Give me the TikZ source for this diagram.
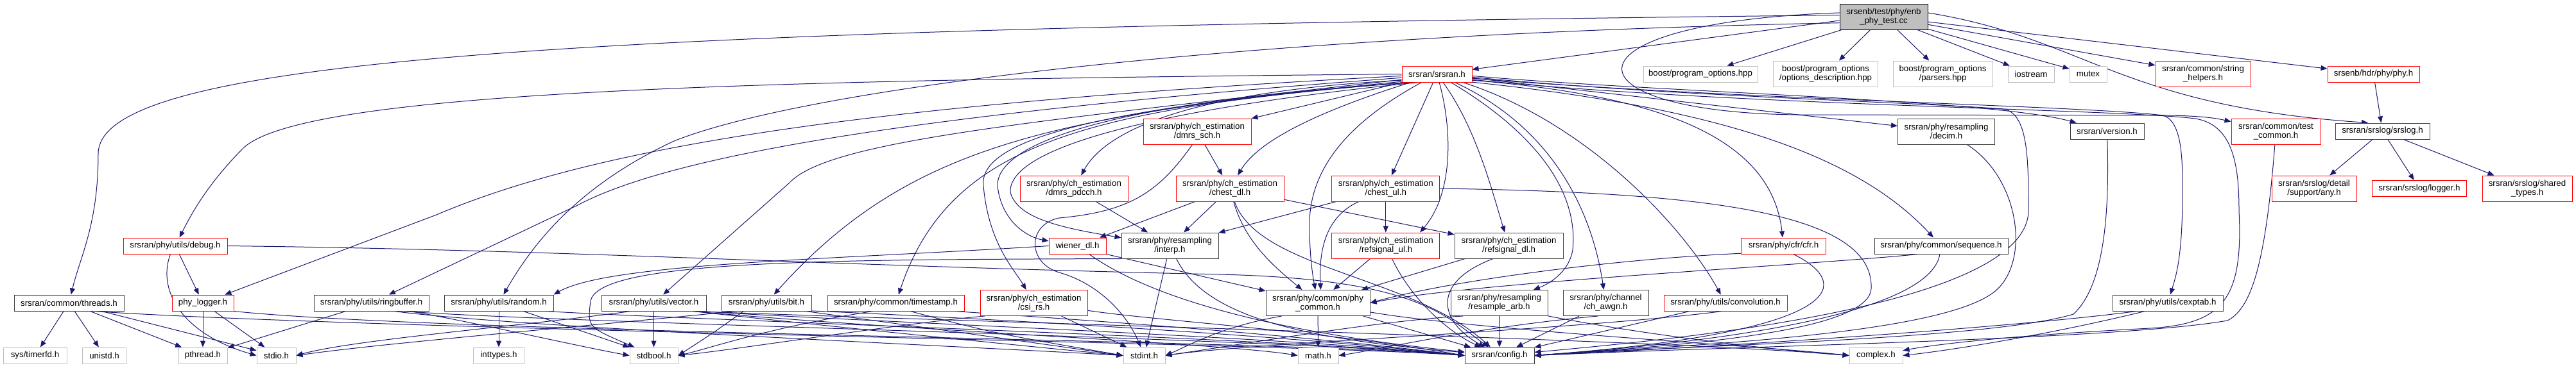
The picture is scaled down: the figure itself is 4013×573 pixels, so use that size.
\documentclass[tikz,border=0pt]{standalone}
\usepackage{fontspec}
\setmainfont{Liberation Sans}
\usetikzlibrary{arrows.meta, backgrounds}
\definecolor{edgeblue}{HTML}{191970}
\definecolor{truncred}{HTML}{FF0000}
\definecolor{sysgray}{HTML}{BFBFBF}
\definecolor{boxdark}{HTML}{404040}

\begin{document}
\begin{tikzpicture}[x=1pt, y=-1pt, font=\fontsize{13.3}{14}\selectfont,
    hdr/.style={draw=boxdark, line width=1pt, fill=white, inner sep=0pt,
      align=center, minimum height=25pt},
    trunc/.style={hdr, draw=truncred},
    sys/.style={hdr, draw=sysgray},
    tall/.style={minimum height=40pt},
    inc/.style={draw=edgeblue, line width=1pt, -{Triangle[length=10pt, width=8pt]}}]
  \useasboundingbox (0,0) rectangle (4013,573);
  % the test file and its direct includes
  \node[hdr, tall, fill=sysgray, draw=black, minimum width=137pt] (root) at (2934.5,26) {srsenb/test/phy/enb\\\_phy\_test.cc};
  \node[trunc, minimum width=109pt] (srsran) at (2238.5,115.5) {srsran/srsran.h};
  \node[sys, minimum width=178pt] (popt) at (2649,115.5) {boost/program\_options.hpp};
  \node[sys, tall, minimum width=163pt] (poptdesc) at (2844,115) {boost/program\_options\\/options\_description.hpp};
  \node[sys, tall, minimum width=155pt] (poptparse) at (3026.5,115) {boost/program\_options\\/parsers.hpp};
  \node[sys, minimum width=72pt] (iostream) at (3164,115.5) {iostream};
  \node[sys, minimum width=58pt] (mutex) at (3253,115.5) {mutex};
  \node[trunc, tall, minimum width=148pt] (strhelp) at (3432,115) {srsran/common/string\\\_helpers.h};
  \node[trunc, minimum width=143pt] (phyh) at (3697.5,115.5) {srsenb/hdr/phy/phy.h};
  % second and third rows
  \node[trunc, tall, minimum width=168pt] (dmrssch) at (1865,205) {srsran/phy/ch\_estimation\\/dmrs\_sch.h};
  \node[hdr, tall, minimum width=151pt] (decim) at (3032,205) {srsran/phy/resampling\\/decim.h};
  \node[hdr, minimum width=115pt] (version) at (3282.5,204.5) {srsran/version.h};
  \node[trunc, tall, minimum width=139pt] (testcommon) at (3545.5,205) {srsran/common/test\\\_common.h};
  \node[hdr, minimum width=147pt] (srslog) at (3711.5,204.5) {srsran/srslog/srslog.h};
  \node[trunc, tall, minimum width=168pt] (dmrspdcch) at (1673,294) {srsran/phy/ch\_estimation\\/dmrs\_pdcch.h};
  \node[trunc, tall, minimum width=168pt] (chestdl) at (1916,294) {srsran/phy/ch\_estimation\\/chest\_dl.h};
  \node[trunc, tall, minimum width=168pt] (chestul) at (2158.75,294) {srsran/phy/ch\_estimation\\/chest\_ul.h};
  \node[trunc, tall, minimum width=132pt] (anyh) at (3605,294) {srsran/srslog/detail\\/support/any.h};
  \node[trunc, minimum width=147pt] (loggerh) at (3769,294) {srsran/srslog/logger.h};
  \node[trunc, tall, minimum width=140pt] (sharedtypes) at (3937,294) {srsran/srslog/shared\\\_types.h};
  % fourth row
  \node[trunc, minimum width=162pt] (debugh) at (273,383.5) {srsran/phy/utils/debug.h};
  \node[trunc, minimum width=89pt] (wienerdl) at (1678.5,383.5) {wiener\_dl.h};
  \node[hdr, tall, minimum width=151pt] (interp) at (1822.5,383) {srsran/phy/resampling\\/interp.h};
  \node[trunc, tall, minimum width=168pt] (refsigul) at (2158.75,383) {srsran/phy/ch\_estimation\\/refsignal\_ul.h};
  \node[hdr, tall, minimum width=169pt] (refsigdl) at (2350.5,383) {srsran/phy/ch\_estimation\\/refsignal\_dl.h};
  \node[trunc, minimum width=132pt] (cfr) at (2778.5,383.5) {srsran/phy/cfr/cfr.h};
  \node[hdr, minimum width=208pt] (sequence) at (3024,383.5) {srsran/phy/common/sequence.h};
  % fifth row
  \node[hdr, minimum width=171pt] (threads) at (107.5,472.5) {srsran/common/threads.h};
  \node[trunc, minimum width=96pt] (phylog) at (316,472.5) {phy\_logger.h};
  \node[hdr, minimum width=179pt] (ringbuf) at (578.5,472.5) {srsran/phy/utils/ringbuffer.h};
  \node[hdr, minimum width=170pt] (randomh) at (777,472.5) {srsran/phy/utils/random.h};
  \node[hdr, minimum width=163pt] (vectorh) at (1018.5,472.5) {srsran/phy/utils/vector.h};
  \node[hdr, minimum width=140pt] (bith) at (1194,472.5) {srsran/phy/utils/bit.h};
  \node[trunc, minimum width=213pt] (timestamp) at (1395.5,472.5) {srsran/phy/common/timestamp.h};
  \node[trunc, tall, minimum width=167pt] (csirs) at (1610.5,472.5) {srsran/phy/ch\_estimation\\/csi\_rs.h};
  \node[hdr, tall, minimum width=162pt] (phycommon) at (2053,472.5) {srsran/phy/common/phy\\\_common.h};
  \node[hdr, tall, minimum width=151pt] (resarb) at (2335.5,472.5) {srsran/phy/resampling\\/resample\_arb.h};
  \node[hdr, tall, minimum width=133pt] (chawgn) at (2501.5,472.5) {srsran/phy/channel\\/ch\_awgn.h};
  \node[trunc, minimum width=192pt] (convol) at (2688,472.5) {srsran/phy/utils/convolution.h};
  \node[hdr, minimum width=172pt] (cexptab) at (3377,472.5) {srsran/phy/utils/cexptab.h};
  % system headers and config
  \node[sys, minimum width=99pt] (timerfd) at (54.5,554.5) {sys/timerfd.h};
  \node[sys, minimum width=68pt] (unistd) at (162.6,554.5) {unistd.h};
  \node[sys, minimum width=76pt] (pthread) at (316,554.5) {pthread.h};
  \node[sys, minimum width=61pt] (stdio) at (430.5,554.5) {stdio.h};
  \node[sys, minimum width=79pt] (inttypes) at (777,554.5) {inttypes.h};
  \node[sys, minimum width=75pt] (stdbool) at (1018.5,554.5) {stdbool.h};
  \node[sys, minimum width=65pt] (stdint) at (1782.5,554.5) {stdint.h};
  \node[sys, minimum width=63pt] (mathh) at (2053.5,554.5) {math.h};
  \node[hdr, minimum width=108pt] (config) at (2336,554.5) {srsran/config.h};
  \node[sys, minimum width=83pt] (complexh) at (2922.5,554.5) {complex.h};

  \begin{scope}[on background layer]
  % from the test file
  \draw[inc] (root.185) -- (srsran);
  \draw[inc] (root) -- (popt);
  \draw[inc] (root) -- (poptdesc);
  \draw[inc] (root) -- (poptparse);
  \draw[inc] (root) -- (iostream);
  \draw[inc] (root) -- (mutex);
  \draw[inc] (root) -- (strhelp);
  \draw[inc] (root) -- (phyh);
  \draw[inc] (root.5) .. controls (3250,60) and (3300,165) .. (srslog.150);
  \draw[inc] (root.175) .. controls (2420,35) and (2430,175) .. (2800,179)
    -- (3380,180) .. controls (3430,181) and (3450,184) .. (testcommon);
  \draw[inc] (root.178) .. controls (900,45) and (153,90) .. (153,240)
    .. controls (153,350) and (125,400) .. (threads);
  \draw[inc] (root.188) .. controls (1900,55) and (1250,140) .. (1050,220)
    .. controls (900,290) and (830,380) .. (randomh);
  % srsran.h fans out
  \draw[inc] (srsran) -- (chestul);
  \draw[inc] (srsran) -- (dmrssch);
  \draw[inc] (srsran) -- (decim);
  \draw[inc] (srsran.west) .. controls (1200,125) and (480,140) .. (380,230)
    .. controls (320,290) and (295,340) .. (debugh);
  \draw[inc] (srsran.183) .. controls (1400,160) and (950,220) .. (680,335) -- (phylog);
  \draw[inc] (srsran.186) .. controls (1450,175) and (1050,240) .. (900,320) -- (ringbuf);
  \draw[inc] (srsran.189) .. controls (1600,190) and (1290,220) .. (1230,285) -- (vectorh);
  \draw[inc] (srsran.192) .. controls (1650,180) and (1420,220) .. (bith);
  \draw[inc] (srsran.195) .. controls (1700,170) and (1480,220) .. (timestamp);
  \draw[inc] (srsran.198) .. controls (1650,170) and (1525,230) .. (1532,290)
    .. controls (1540,380) and (1580,420) .. (csirs);
  \draw[inc] (srsran.201) .. controls (1700,160) and (1552,230) .. (1554,290)
    .. controls (1560,345) and (1600,370) .. (wienerdl);
  \draw[inc] (srsran.204) .. controls (1800,170) and (1570,230) .. (1574,300)
    .. controls (1585,340) and (1650,355) .. (interp);
  \draw[inc] (srsran.190) .. controls (1900,140) and (1730,190) .. (dmrspdcch);
  \draw[inc] (srsran) .. controls (2050,175) and (1960,220) .. (chestdl);
  \draw[inc] (srsran) .. controls (2120,180) and (2040,250) .. (2040,350)
    .. controls (2040,400) and (2045,430) .. (phycommon);
  \draw[inc] (srsran) .. controls (2262,200) and (2265,300) .. (refsigul.21);
  \draw[inc] (srsran) .. controls (2300,200) and (2325,300) .. (refsigdl);
  \draw[inc] (srsran) .. controls (2380,200) and (2460,290) .. (2450,390)
    .. controls (2445,420) and (2420,440) .. (resarb);
  \draw[inc] (srsran) .. controls (2420,200) and (2480,330) .. (chawgn);
  \draw[inc] (srsran) .. controls (2470,190) and (2620,350) .. (convol);
  \draw[inc] (srsran.350) .. controls (2600,150) and (2760,220) .. (cfr);
  \draw[inc] (srsran.347) .. controls (2700,170) and (2900,250) .. (sequence);
  \draw[inc] (srsran.-3) .. controls (2600,145) and (3100,155) .. (version);
  \draw[inc] (srsran.-5) .. controls (2600,150) and (3000,160) .. (3120,170)
    .. controls (3160,175) and (3160,250) .. (3160,330)
    .. controls (3155,480) and (2600,530) .. (config);
  \draw[inc] (srsran.-7) .. controls (2700,155) and (3250,165) .. (3370,180)
    .. controls (3400,190) and (3400,250) .. (3400,300)
    .. controls (3400,400) and (3390,430) .. (cexptab);
  \draw[inc] (srsran.-9) .. controls (2700,165) and (3300,170) .. (3420,185)
    .. controls (3480,195) and (3488,260) .. (3488,330)
    .. controls (3495,470) and (3460,505) .. (3350,512)
    .. controls (3100,525) and (3000,540) .. (complexh);
  % logging
  \draw[inc] (phyh) -- (srslog);
  \draw[inc] (srslog) -- (anyh);
  \draw[inc] (srslog) -- (loggerh);
  \draw[inc] (srslog) -- (sharedtypes);
  % channel estimation
  \draw[inc] (dmrssch) -- (chestdl);
  \draw[inc] (dmrssch.250) .. controls (1805,300) and (1760,330) .. (1650,340)
    .. controls (1600,350) and (1600,410) .. (1650,425)
    .. controls (1720,445) and (1760,500) .. (stdint);
  \draw[inc] (dmrspdcch) -- (interp);
  \draw[inc] (chestdl) -- (wienerdl);
  \draw[inc] (chestdl) -- (interp);
  \draw[inc] (chestdl) -- (refsigdl);
  \draw[inc] (chestdl) .. controls (1940,380) and (1990,420) .. (phycommon);
  \draw[inc] (chestdl) .. controls (1960,420) and (2200,430) .. (config);
  \draw[inc] (chestul) -- (refsigul);
  \draw[inc] (chestul) -- (interp);
  \draw[inc] (chestul.206) .. controls (2060,340) and (2055,400) .. (phycommon.78);
  \draw[inc] (chestul.east) .. controls (2650,300) and (2920,330) .. (2915,450)
    .. controls (2912,520) and (2600,540) .. (config.east);
  \draw[inc] (refsigul) -- (phycommon);
  \draw[inc] (refsigul) .. controls (2200,470) and (2260,520) .. (config);
  \draw[inc] (refsigdl) -- (phycommon);
  \draw[inc] (refsigdl.220) .. controls (2230,440) and (2240,500) .. (config);
  \draw[inc] (wienerdl.south east) -- (phycommon);
  \draw[inc] (wienerdl) .. controls (1800,470) and (2000,520) .. (config);
  \draw[inc] (wienerdl.west) .. controls (1300,405) and (950,410) .. (randomh.north east);
  \draw[inc] (interp) -- (stdint);
  \draw[inc] (interp) .. controls (1880,500) and (2050,530) .. (config);
  \draw[inc] (interp.south west) .. controls (1300,405) and (930,405) .. (920,470)
    .. controls (915,510) .. (stdbool);
  \draw[inc] (cfr.190) .. controls (2500,405) and (2250,440) .. (phycommon.east);
  \draw[inc] (cfr.-40) .. controls (2900,450) and (2850,520) .. (config.east);
  \draw[inc] (sequence.200) .. controls (2800,415) and (2300,440) .. (phycommon.east);
  \draw[inc] (sequence) .. controls (3010,470) and (2800,525) .. (config.east);
  \draw[inc] (decim) .. controls (3150,280) and (3165,420) .. (3100,460)
    .. controls (3000,525) and (2600,540) .. (config.east);
  \draw[inc] (version) .. controls (3285,300) and (3285,440) .. (3230,490)
    .. controls (3100,530) and (2600,540) .. (config.east);
  \draw[inc] (testcommon) .. controls (3530,400) and (3510,480) .. (3470,500)
    .. controls (3300,530) and (2700,540) .. (config.east);
  % utilities down to the system headers
  \draw[inc] (debugh) -- (phylog);
  \draw[inc] (debugh.240) .. controls (245,450) and (280,520) .. (stdio.west);
  \draw[inc] (debugh.east) .. controls (900,390) and (1300,415) .. (1900,428)
    .. controls (2200,435) and (2250,490) .. (config);
  \draw[inc] (phylog) -- (pthread);
  \draw[inc] (phylog) -- (stdio);
  \draw[inc] (phylog.-15) .. controls (700,520) and (2000,530) .. (config.west);
  \draw[inc] (threads) -- (timerfd);
  \draw[inc] (threads) -- (unistd);
  \draw[inc] (threads) -- (pthread);
  \draw[inc] (threads) -- (stdio);
  \draw[inc] (threads.-19) .. controls (600,515) and (2000,535) .. (config.west);
  \draw[inc] (ringbuf.198) -- (pthread);
  \draw[inc] (ringbuf.-12) .. controls (750,505) and (900,540) .. (stdbool.west);
  \draw[inc] (ringbuf.-20) .. controls (800,510) and (1500,540) .. (stdint.west);
  \draw[inc] (ringbuf.-15) .. controls (900,505) and (2000,528) .. (config.west);
  \draw[inc] (randomh) -- (inttypes);
  \draw[inc] (randomh) -- (stdbool);
  \draw[inc] (randomh.-10) .. controls (1100,500) and (2000,528) .. (config.west);
  \draw[inc] (vectorh) -- (stdbool);
  \draw[inc] (vectorh.200) .. controls (800,510) and (550,530) .. (stdio.east);
  \draw[inc] (vectorh.-12) .. controls (1300,510) and (1600,540) .. (stdint.west);
  \draw[inc] (vectorh.-10) .. controls (1300,500) and (2000,525) .. (config.west);
  \draw[inc] (vectorh.-12) .. controls (1400,515) and (1900,535) .. (mathh.west);
  \draw[inc] (vectorh.-12) .. controls (1600,505) and (2600,530) .. (complexh.west);
  \draw[inc] (bith.200) .. controls (1110,520) .. (stdbool.east);
  \draw[inc] (bith.195) .. controls (900,510) and (600,535) .. (stdio.east);
  \draw[inc] (bith.-12) .. controls (1400,505) and (1650,540) .. (stdint.west);
  \draw[inc] (bith.-10) .. controls (1500,495) and (2000,522) .. (config.west);
  \draw[inc] (timestamp.-30) .. controls (1550,520) .. (stdint.west);
  \draw[inc] (timestamp.200) .. controls (1200,510) and (1100,545) .. (stdbool.east);
  \draw[inc] (timestamp.-8) .. controls (1700,500) and (2000,520) .. (config.west);
  \draw[inc] (csirs) -- (stdint);
  \draw[inc] (csirs.195) .. controls (1400,505) and (1150,545) .. (stdbool.east);
  \draw[inc] (csirs.-8) .. controls (1800,500) and (2050,515) .. (config.west);
  \draw[inc] (phycommon) -- (mathh);
  \draw[inc] (phycommon) -- (config);
  \draw[inc] (phycommon.200) .. controls (1900,510) and (1850,540) .. (stdint.east);
  \draw[inc] (phycommon.-10) .. controls (2300,515) and (2750,540) .. (complexh.west);
  \draw[inc] (resarb) -- (config);
  \draw[inc] (resarb.-15) .. controls (2550,520) and (2750,545) .. (complexh.west);
  \draw[inc] (resarb.200) .. controls (2150,500) and (1950,535) .. (stdint.east);
  \draw[inc] (chawgn) -- (config);
  \draw[inc] (chawgn.240) .. controls (2300,510) and (2150,545) .. (mathh.east);
  \draw[inc] (convol) -- (config);
  \draw[inc] (convol.250) .. controls (2450,515) and (1950,535) .. (stdint.east);
  \draw[inc] (cexptab.200) .. controls (3200,520) and (3050,545) .. (complexh.east);
  \draw[inc] (cexptab.195) .. controls (3100,515) and (2600,545) .. (config.east);
  \end{scope}
\end{tikzpicture}
\end{document}
